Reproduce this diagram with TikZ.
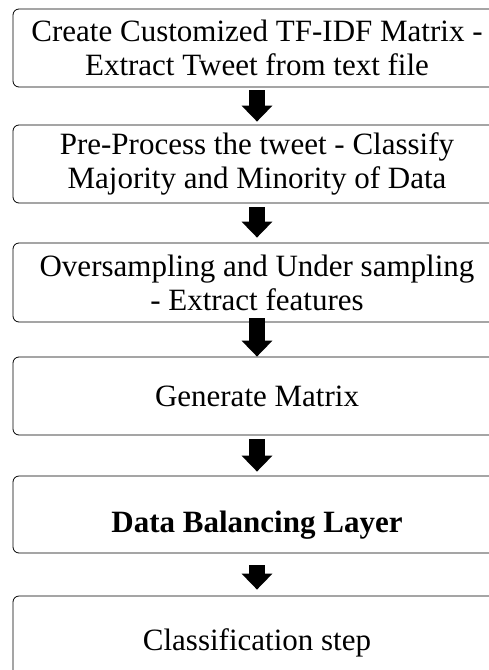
\documentclass[tikz,border=0pt]{standalone}
\usepackage{fontspec}
\setmainfont{Liberation Serif}
\usetikzlibrary{arrows.meta}
\tikzset{
  stepbox/.style={draw, rounded corners=6pt, line width=0.8pt, minimum width=488pt,
    align=center, inner sep=0pt, font=\fontsize{31}{34}\selectfont},
  blockarrow/.style={line width=15.5pt, -{Triangle[width=30pt,length=16pt]}},
}
\begin{document}
\begin{tikzpicture}[x=1pt, y=-1pt]
\useasboundingbox (0,0) rectangle (489,670);
\clip (0,0) rectangle (489,670);

% Steps
\node[stepbox, minimum height=78pt] (extract) at (257, 48) {Create Customized TF-IDF Matrix -\\ Extract Tweet from text file};
\node[stepbox, minimum height=78pt] (preproc) at (257, 164) {Pre-Process the tweet - Classify\\ Majority and Minority of Data};
\node[stepbox, minimum height=79pt] (sampling) at (257, 282.5) {Oversampling and Under sampling\\ - Extract features};
\node[stepbox, minimum height=78pt] (matrix) at (257, 396) {Generate Matrix};
\node[stepbox, minimum height=77pt, text height=43pt, text depth=7pt] (balance) at (257, 514.5) {\textbf{Data Balancing Layer}};
\node[stepbox, minimum height=94pt] (classify) at (257, 643) {Classification step};

% Arrows between steps
\draw[blockarrow, shorten <=3pt, shorten >=3pt] (extract.south) -- (preproc.north);
\draw[blockarrow, shorten <=4pt, shorten >=5pt] (preproc.south) -- (sampling.north);
\draw[blockarrow, shorten <=-4pt] (sampling.south) -- (matrix.north);
\draw[blockarrow, shorten <=4pt, shorten >=4pt] (matrix.south) -- (balance.north);
\draw[blockarrow, shorten <=12pt, shorten >=6pt] (balance.south) -- (classify.north);
\end{tikzpicture}
\end{document}
